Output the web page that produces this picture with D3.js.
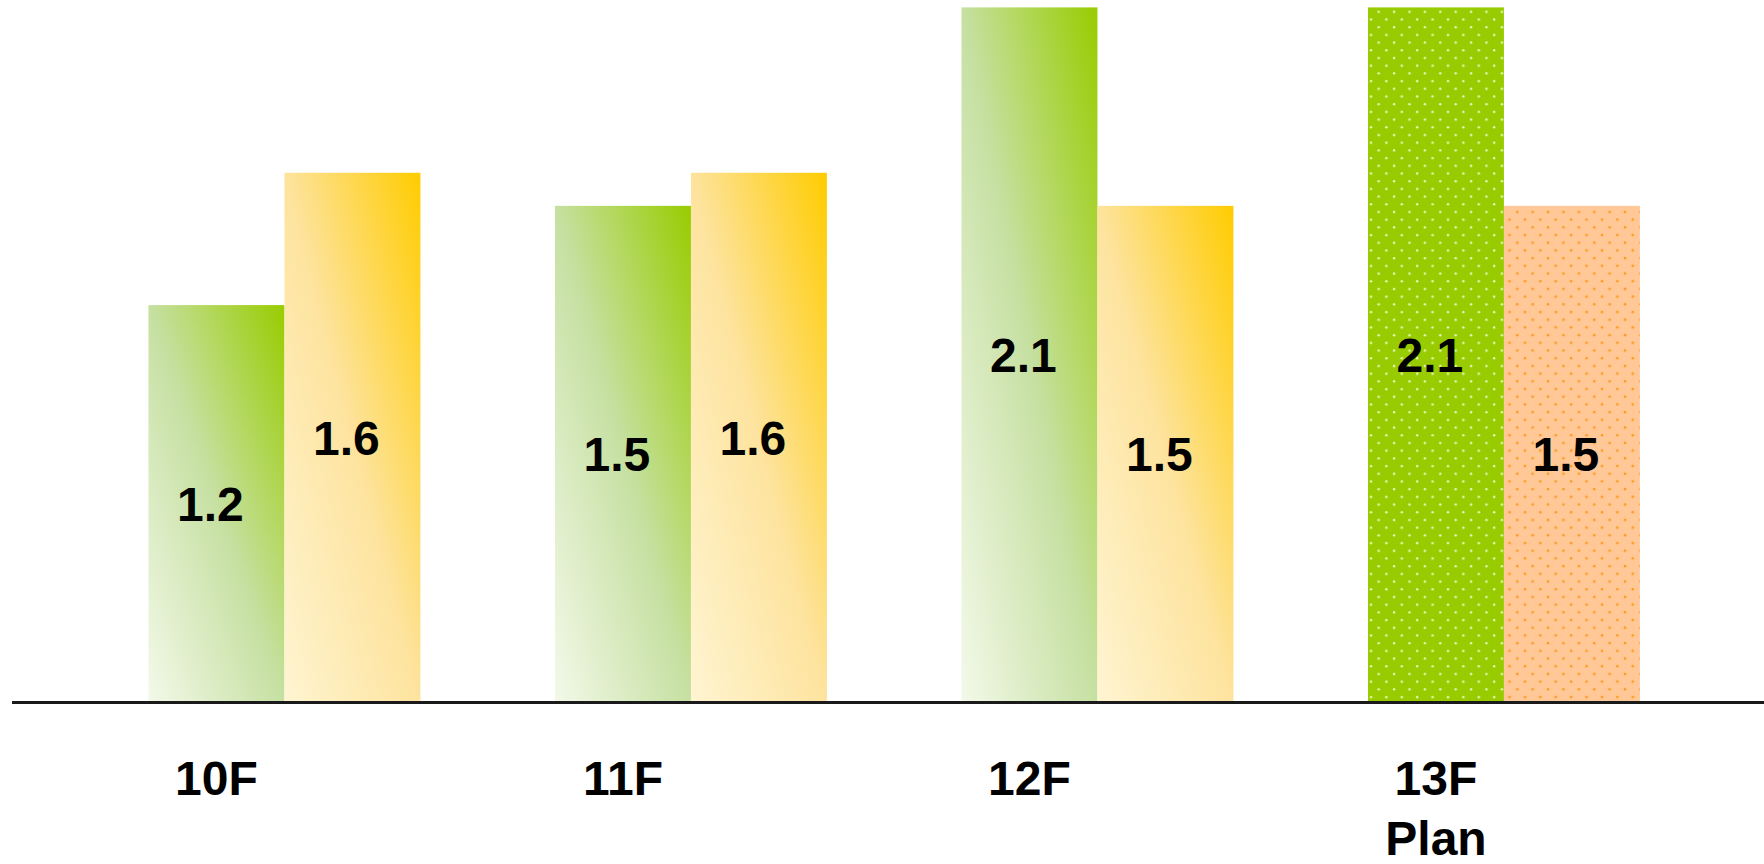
<!DOCTYPE html>
<html>
<head>
<meta charset="utf-8">
<script src="https://cdn.jsdelivr.net/npm/d3@7/dist/d3.min.js"></script>
<style>
  html, body { margin: 0; padding: 0; background: #ffffff; }
  svg { display: block; }
  text { font-family: "Liberation Sans", Arial, sans-serif; font-weight: bold; fill: #000; }
</style>
</head>
<body>
<svg id="chart" width="1764" height="864"></svg>
<script>
// Fiscal years and their two measures
const categories = ["10F", "11F", "12F", "13F"];
const categoryLabels = [["10F"], ["11F"], ["12F"], ["13F", "Plan"]];
const seriesKeys = ["green", "orange"];
const greenValues = [1.2, 1.5, 2.1, 2.1];
const orangeValues = [1.6, 1.6, 1.5, 1.5];
const planCategory = "13F";

const W = 1764, H = 864;
const svg = d3.select("#chart");

const x = d3.scaleBand()
  .domain(categories)
  .range([81.2, 1707.2])
  .paddingInner(0.331)
  .paddingOuter(0.1655);

const xSub = d3.scaleBand()
  .domain(seriesKeys)
  .range([0, x.bandwidth()])
  .padding(0);

const y = d3.scaleLinear()
  .domain([0, 2.1])
  .range([702, 7.4]);

// Fills: diagonal gradients for actuals, dotted patterns for the plan year
const defs = svg.append("defs");

function diagGradient(id, stops) {
  const g = defs.append("linearGradient")
    .attr("id", id)
    .attr("x1", 0).attr("y1", 1)
    .attr("x2", 1).attr("y2", 0);
  stops.forEach(([o, c]) => g.append("stop").attr("offset", o).attr("stop-color", c));
}
diagGradient("grad-green", [[0, "#f3f9e9"], [0.5, "#c6e0a2"], [1, "#99cc00"]]);
diagGradient("grad-orange", [[0, "#fff5d2"], [0.5, "#fde39e"], [1, "#ffcc00"]]);

function dotPattern(id, bg, dot, r) {
  const s = 15.4;
  const p = defs.append("pattern")
    .attr("id", id)
    .attr("patternUnits", "userSpaceOnUse")
    .attr("width", s).attr("height", s);
  p.append("rect").attr("width", s).attr("height", s).attr("fill", bg);
  [[3, 4], [3 + s / 2, 4 + s / 2]].forEach(([cx, cy]) =>
    p.append("circle").attr("cx", cx).attr("cy", cy).attr("r", r).attr("fill", dot));
}
dotPattern("dots-green", "#99cc00", "#e6f7bd", 1.2);
dotPattern("dots-orange", "#ffc896", "#ff9a22", 1.3);

const fillFor = (cat, key) => cat === planCategory
  ? (key === "green" ? "url(#dots-green)" : "url(#dots-orange)")
  : (key === "green" ? "url(#grad-green)" : "url(#grad-orange)");

const rows = categories.map((c, i) => ({
  cat: c,
  vals: [{ key: "green", v: greenValues[i] }, { key: "orange", v: orangeValues[i] }]
}));

const groups = svg.append("g").selectAll("g")
  .data(rows)
  .join("g")
  .attr("transform", d => `translate(${x(d.cat)},0)`);

groups.selectAll("rect")
  .data(d => d.vals.map(v => ({ ...v, cat: d.cat })))
  .join("rect")
  .attr("x", d => xSub(d.key))
  .attr("y", d => y(d.v))
  .attr("width", xSub.bandwidth())
  .attr("height", d => y(0) - y(d.v))
  .attr("fill", d => fillFor(d.cat, d.key));

groups.selectAll("text.value")
  .data(d => d.vals)
  .join("text")
  .attr("class", "value")
  .attr("x", d => xSub(d.key) + xSub.bandwidth() / 2 - 6)
  .attr("y", d => (y(d.v) + y(0)) / 2)
  .attr("dy", "0.36em")
  .attr("text-anchor", "middle")
  .style("font-size", "48px")
  .text(d => d.v.toFixed(1));

// Baseline
svg.append("line")
  .attr("x1", 12).attr("x2", W)
  .attr("y1", y(0) + 0.5).attr("y2", y(0) + 0.5)
  .attr("stroke", "#1a1a1a")
  .attr("stroke-width", 2.8);

// Category labels, centred under the first bar of each group
const labels = svg.append("g").selectAll("text")
  .data(categories.map((c, i) => ({ cat: c, lines: categoryLabels[i] })))
  .join("text")
  .attr("text-anchor", "middle")
  .style("font-size", "48px")
  .attr("transform", d => `translate(${x(d.cat) + xSub("green") + xSub.bandwidth() / 2},795)`);

labels.selectAll("tspan")
  .data(d => d.lines)
  .join("tspan")
  .attr("x", 0)
  .attr("y", (d, i) => i * 60)
  .text(d => d);
</script>
</body>
</html>
